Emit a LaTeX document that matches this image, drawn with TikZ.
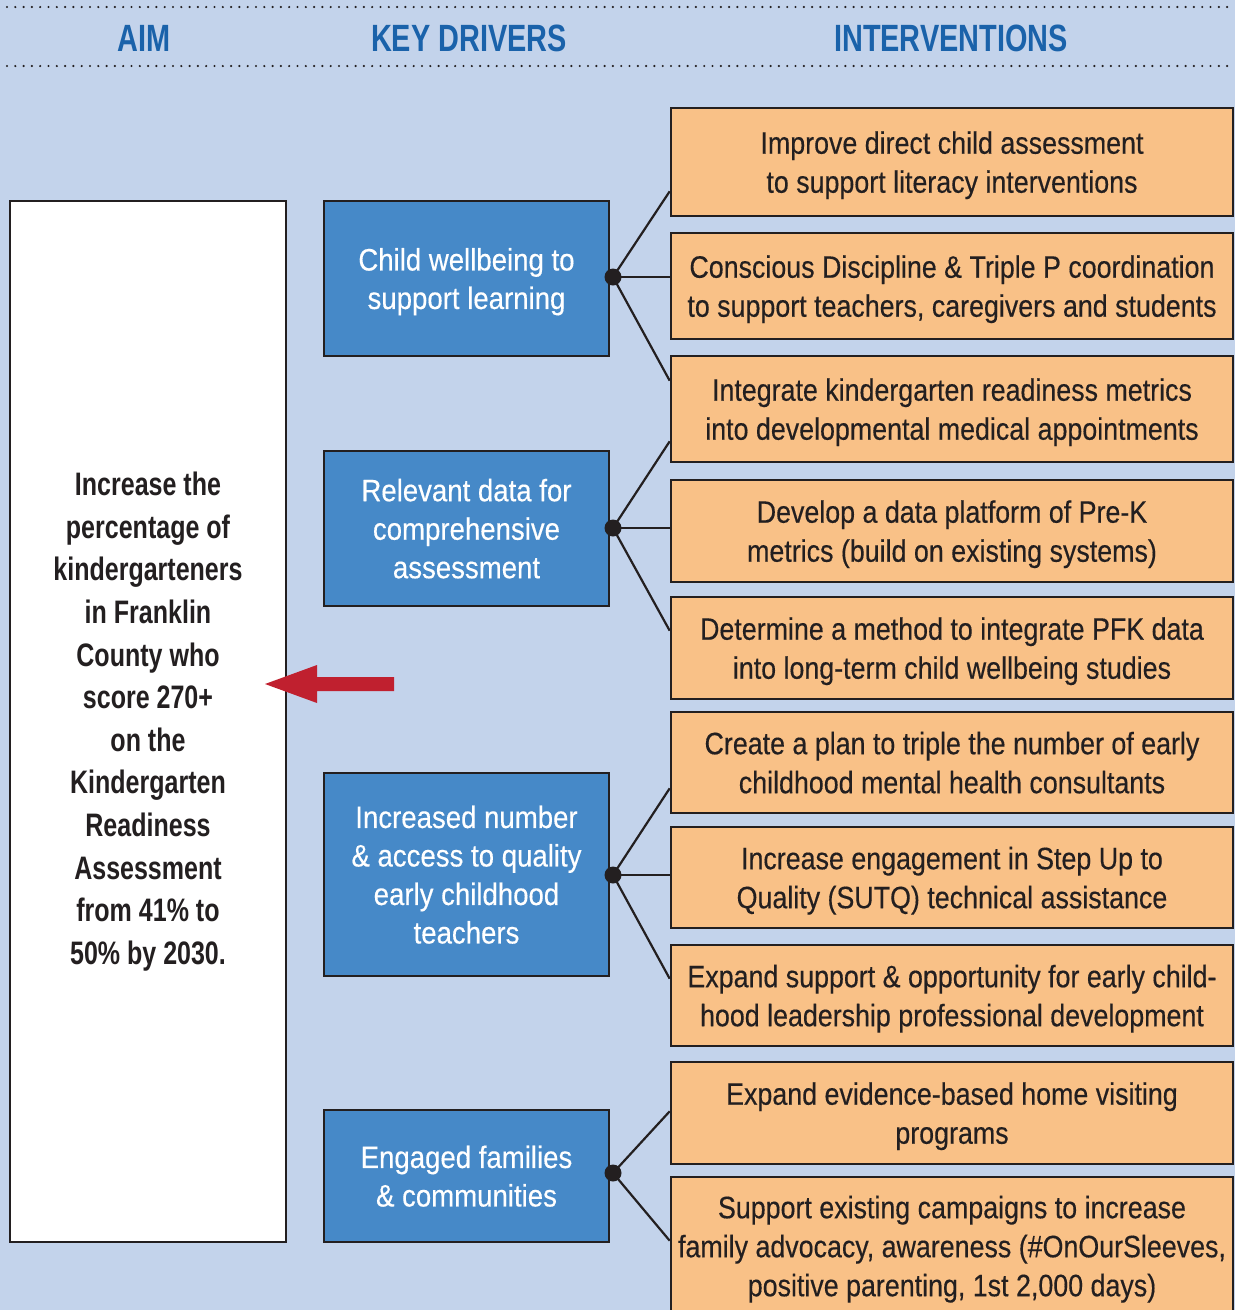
\documentclass[tikz,border=0pt]{standalone}
\usepackage{fontspec}
\setmainfont{Liberation Sans}[FakeStretch=0.89, FakeBold=0.35]
\newfontfamily\ivfont{Liberation Sans}[FakeStretch=0.865, FakeBold=0.35]
\newfontfamily\aimfont{Liberation Sans}[FakeStretch=0.77]
\newfontfamily\hdrfont{Liberation Sans}[FakeStretch=0.76]
\definecolor{bgblue}{HTML}{C3D3EB}
\definecolor{boxblue}{HTML}{4689C8}
\definecolor{boxorange}{HTML}{F9C187}
\definecolor{hdrblue}{HTML}{1A62AA}
\definecolor{arrowred}{HTML}{C0202F}
\definecolor{edge}{HTML}{231F20}
\tikzset{
  ivbox/.style={draw=edge, line width=2.6pt, fill=boxorange, text=edge,
    minimum width=562pt, align=center, inner sep=0pt, text depth=0pt,
    font=\ivfont\fontsize{31}{39}\selectfont},
  drbox/.style={draw=edge, line width=2.6pt, fill=boxblue, text=white,
    minimum width=285pt, align=center, inner sep=0pt, text depth=0pt,
    font=\fontsize{31}{38.5}\selectfont},
  aimbox/.style={draw=edge, line width=2.6pt, fill=white, text=edge,
    minimum width=276pt, minimum height=1041pt, align=center, inner sep=0pt,
    font=\aimfont\bfseries\fontsize{32.5}{42.6}\selectfont},
  hdr/.style={text=hdrblue, font=\hdrfont\bfseries\fontsize{38}{40}\selectfont, inner sep=0pt},
  hub/.style={circle, fill=edge, minimum size=17pt, inner sep=0pt},
  link/.style={draw=edge, line width=2.2pt},
  dotline/.style={draw=edge, line width=2.4pt, line cap=round, dash pattern=on 0pt off 8.3pt}
}
\begin{document}
\begin{tikzpicture}[x=1pt,y=-1pt]
\useasboundingbox (0,0) rectangle (1235,1310);
\fill[bgblue] (0,0) rectangle (1235,1310);

% header
\coordinate (tl) at (7,7);
\coordinate (tr) at (1235,7);
\coordinate (bl) at (7,66);
\coordinate (br) at (1235,66);
\draw[dotline] (tl) -- (tr);
\draw[dotline] (bl) -- (br);
\node[hdr] (hAim) at (144,38.5) {AIM};
\node[hdr] (hKey) at (469,38.5) {KEY DRIVERS};
\node[hdr] (hInt) at (951,38.5) {INTERVENTIONS};

% aim
\node[aimbox] (aim) at (148,721.5) {Increase the\\percentage of\\kindergarteners\\in Franklin\\County who\\score 270+\\on the\\Kindergarten\\Readiness\\Assessment\\from 41\% to\\50\% by 2030.};

% drivers
\node[drbox, minimum height=155pt] (D1) at (466.5,278.5) {Child wellbeing to\\support learning};
\node[drbox, minimum height=155pt] (D2) at (466.5,528.5) {Relevant data for\\comprehensive\\assessment};
\node[drbox, minimum height=203pt] (D3) at (466.5,874.5) {Increased number\\\& access to quality\\early childhood\\teachers};
\node[drbox, minimum height=132pt] (D4) at (466.5,1176) {Engaged families\\\& communities};

% interventions
\node[ivbox, minimum height=108pt] (I1) at (952,162) {Improve direct child assessment\\to support literacy interventions};
\node[ivbox, minimum height=106pt] (I2) at (952,286) {Conscious Discipline \& Triple P coordination\\to support teachers, caregivers and students};
\node[ivbox, minimum height=106pt] (I3) at (952,409) {Integrate kindergarten readiness metrics\\into developmental medical appointments};
\node[ivbox, minimum height=102pt] (I4) at (952,531) {Develop a data platform of Pre-K\\metrics (build on existing systems)};
\node[ivbox, minimum height=102pt] (I5) at (952,648) {Determine a method to integrate PFK data\\into long-term child wellbeing studies};
\node[ivbox, minimum height=101pt] (I6) at (952,762.5) {Create a plan to triple the number of early\\childhood mental health consultants};
\node[ivbox, minimum height=101pt] (I7) at (952,877.5) {Increase engagement in Step Up to\\Quality (SUTQ) technical assistance};
\node[ivbox, minimum height=101pt] (I8) at (952,995.5) {Expand support \& opportunity for early child-\\hood leadership professional development};
\node[ivbox, minimum height=102pt] (I9) at (952,1113) {Expand evidence-based home visiting\\programs};
\node[ivbox, minimum height=138pt] (I10) at (952,1246) {Support existing campaigns to increase\\family advocacy, awareness (\#OnOurSleeves,\\positive parenting, 1st 2,000 days)};

% hubs
\node[hub] (h1) at (613,277) {};
\node[hub] (h2) at (613,528) {};
\node[hub] (h3) at (613,875) {};
\node[hub] (h4) at (613,1173) {};

% connectors
\draw[link] (h1.center) -- ([yshift=26pt]I1.south west);
\draw[link] (h1.center) -- (h1 -| I2.west);
\draw[link] (h1.center) -- ([yshift=-26pt]I3.north west);
\draw[link] (h2.center) -- ([yshift=22pt]I3.south west);
\draw[link] (h2.center) -- (h2 -| I4.west);
\draw[link] (h2.center) -- ([yshift=-35pt]I5.north west);
\draw[link] (h3.center) -- ([yshift=26pt]I6.south west);
\draw[link] (h3.center) -- (h3 -| I7.west);
\draw[link] (h3.center) -- ([yshift=-35pt]I8.north west);
\draw[link] (h4.center) -- ([yshift=54pt]I9.south west);
\draw[link] (h4.center) -- ([yshift=-65pt]I10.north west);

% red arrow
\fill[arrowred] (265,684) -- (317,665) -- (317,677) -- (394,677) -- (394,691) -- (317,691) -- (317,703) -- cycle;
\end{tikzpicture}
\end{document}
